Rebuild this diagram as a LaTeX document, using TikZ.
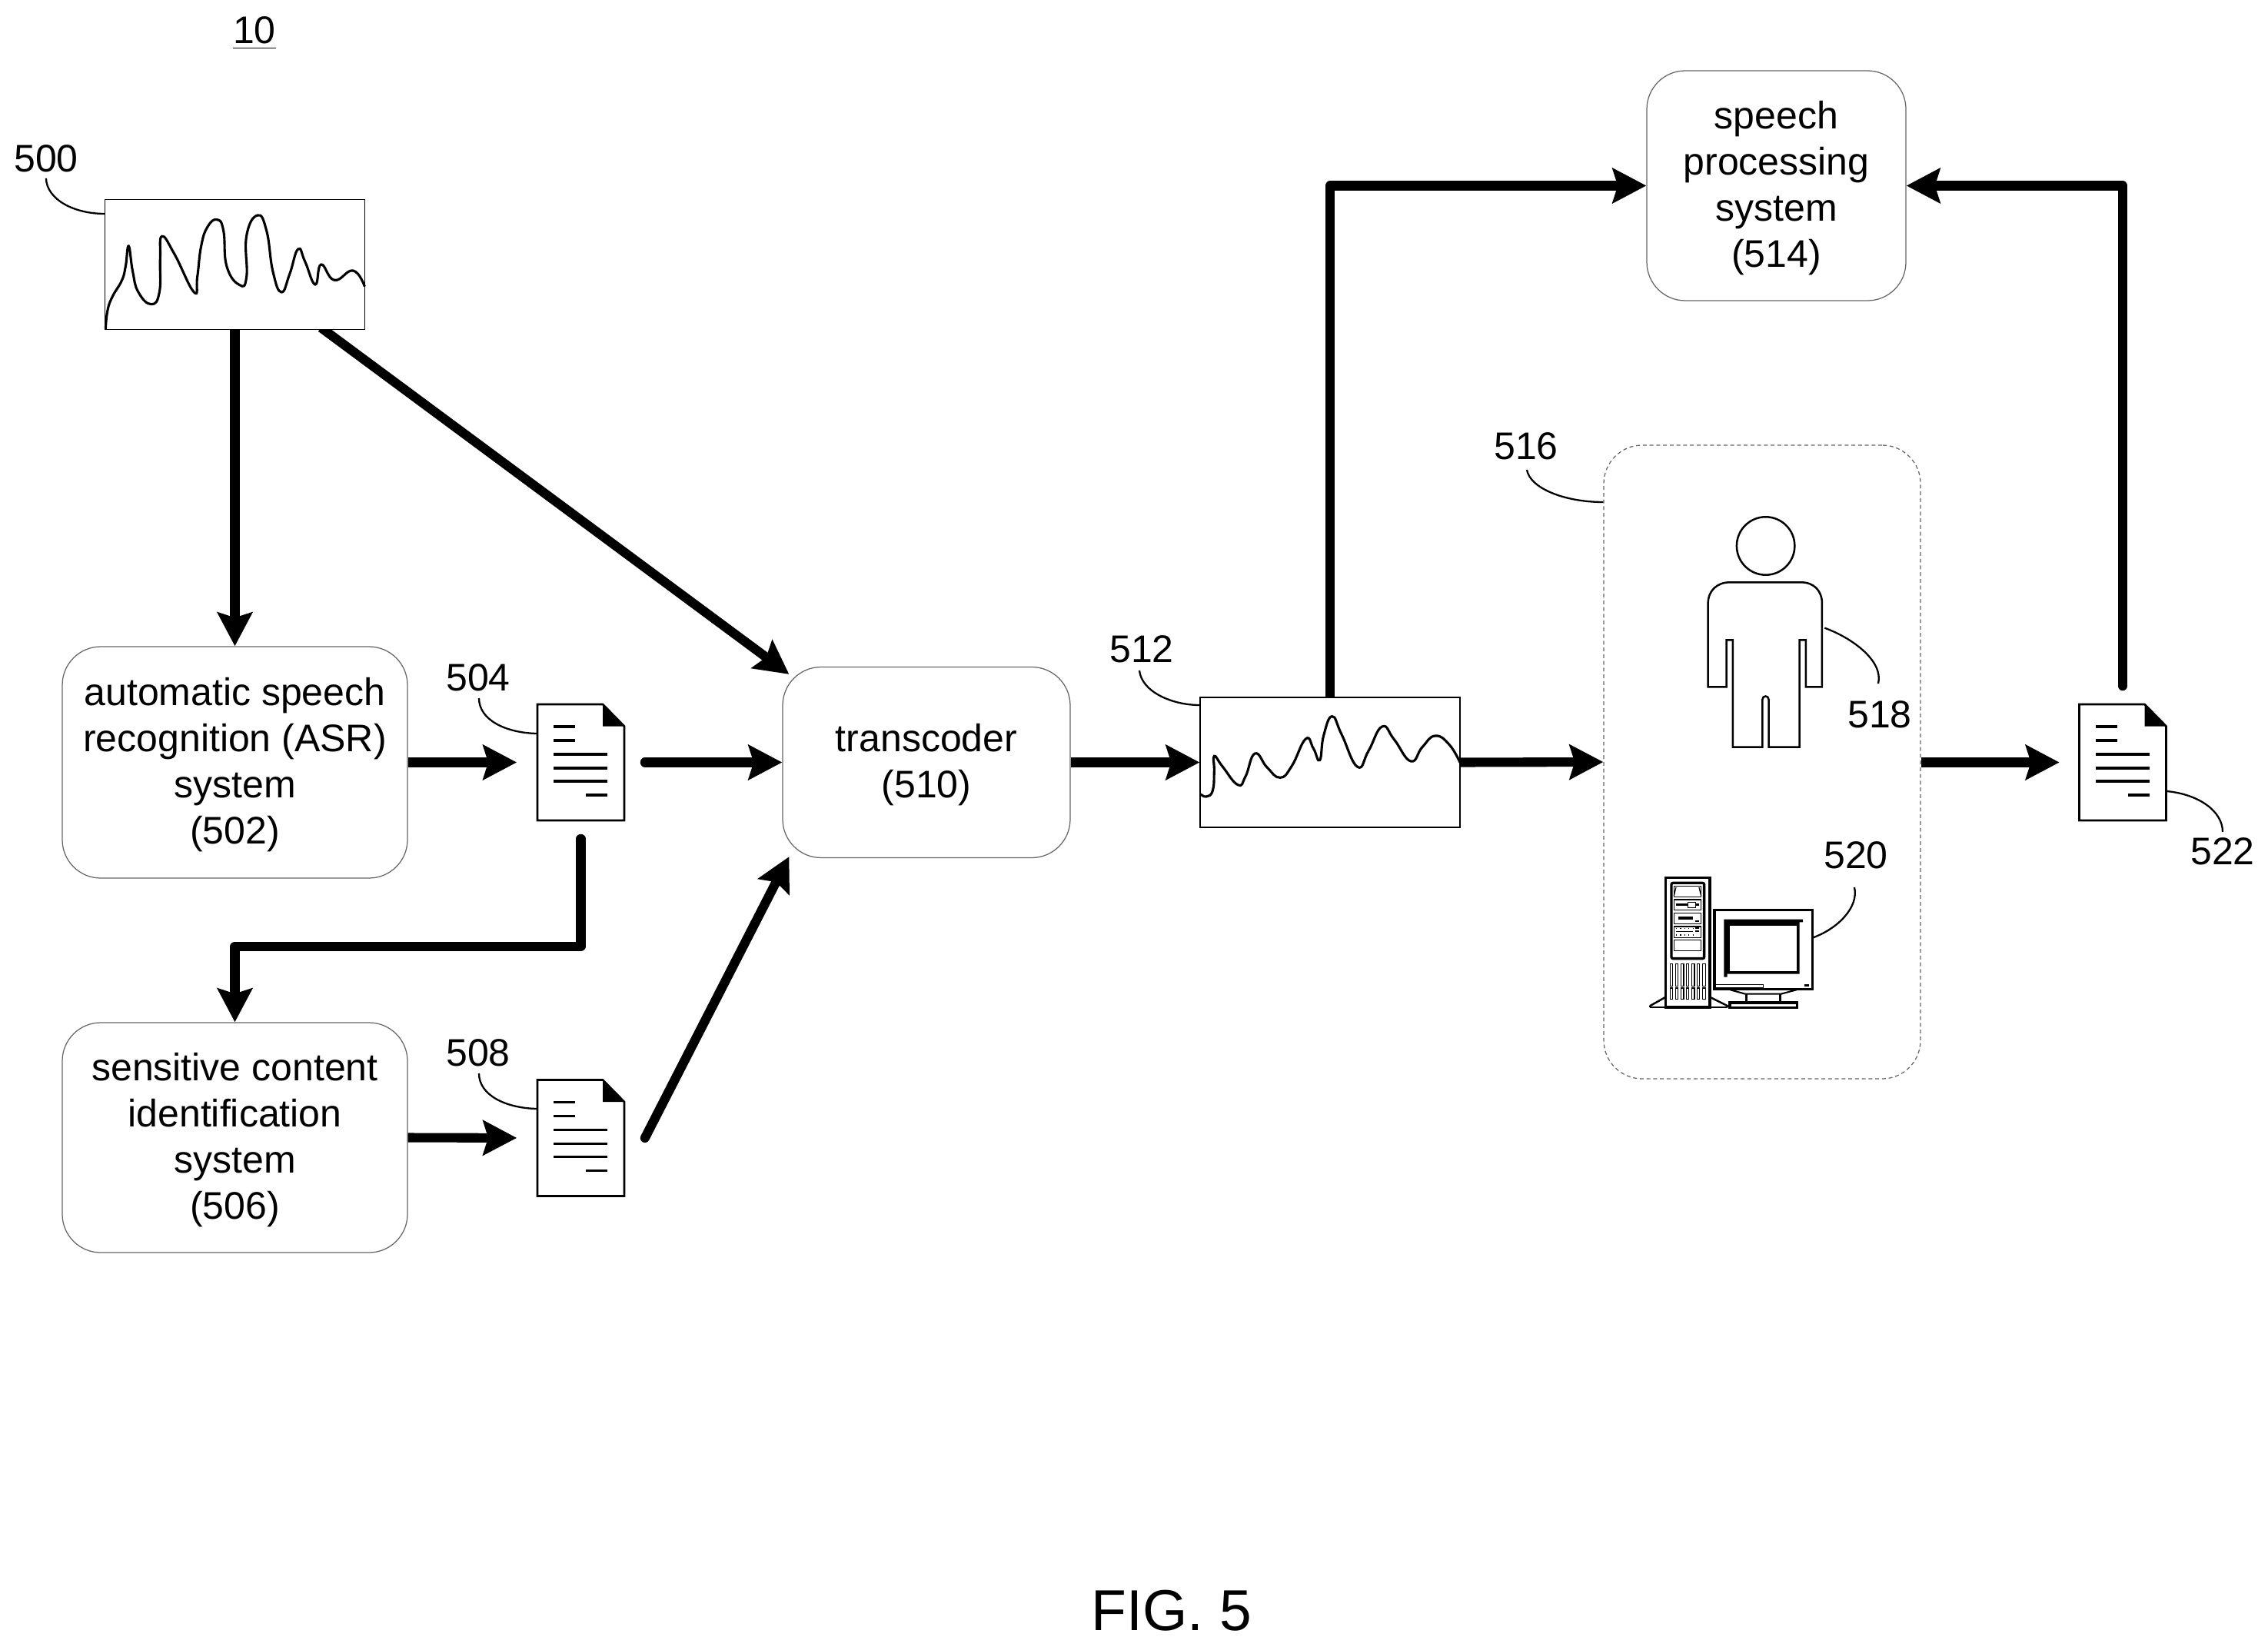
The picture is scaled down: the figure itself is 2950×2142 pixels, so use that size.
\documentclass[tikz,border=0pt]{standalone}
\usepackage{fontspec}
\setmainfont{Liberation Sans}
\usetikzlibrary{arrows.meta,calc,backgrounds}
\newcommand{\tstrut}{\rule{0pt}{10.3pt}}
\tikzset{
  every node/.style={font=\fontsize{12}{14.4}\selectfont,text=black},
  flowbox/.style={draw=black!60,line width=0.3pt,rounded corners=12pt,align=center,inner sep=0pt},
  groupbox/.style={draw=black!60,line width=0.3pt,dash pattern=on 1.2pt off 0.9pt,rounded corners=12pt,inner sep=0pt},
  wavebox/.style={draw=black,line width=0.3pt,fill=white,inner sep=0pt,minimum width=338*0.24pt,minimum height=169*0.24pt},
  wavecurve/.style={line width=0.75pt,black,smooth,tension=0.8},
  docbox/.style={inner sep=0pt,minimum width=113*0.24pt,minimum height=151*0.24pt},
  flow/.style={line width=2.9pt,line join=round,-{Stealth[length=10.5pt,width=10.8pt,inset=1.6pt]}},
  leader/.style={line width=0.55pt,black},
  thinl/.style={line width=0.55pt,black},
  zoomed/.style={x=0.08pt,y=-0.08pt},
  docicon/.pic={
    \draw[line width=0.65pt,line join=miter,fill=white] (-56.5,-75.5) -- (28.5,-75.5) -- (56.5,-47) -- (56.5,75.5) -- (-56.5,75.5) -- cycle;
    \fill (28.5,-75.5) -- (56.5,-47) -- (28.5,-47) -- cycle;
    \foreach \yy in {-46.5,-28.5} \draw[line width=0.8pt] (-35.5,\yy) -- (-7.5,\yy);
    \foreach \yy in {-10.5,7.5,24.5} \draw[line width=0.8pt] (-35.5,\yy) -- (34.5,\yy);
    \draw[line width=0.8pt] (6.5,42.5) -- (34.5,42.5);
  }
}
\begin{document}
\begin{tikzpicture}[x=0.24pt,y=-0.24pt]
\useasboundingbox (0,0) rectangle (2950,2142);

% wave boxes
\node[wavebox] (wave1) at (305.5,344) {};
\node[wavebox] (wave2) at (1730,991.5) {};

% flow boxes
\node[flowbox,minimum width=449*0.24pt,minimum height=301*0.24pt] (asr) at (305.5,991.5)
  {\tstrut automatic speech\\recognition (ASR)\\system\\(502)};
\node[flowbox,minimum width=449*0.24pt,minimum height=299*0.24pt] (sens) at (305.5,1479.5)
  {\tstrut sensitive content\\identification\\system\\(506)};
\node[flowbox,minimum width=374*0.24pt,minimum height=248*0.24pt] (trans) at (1205,991.5)
  {\tstrut transcoder\\(510)};
\node[flowbox,minimum width=337*0.24pt,minimum height=299*0.24pt] (speech) at (2310.5,241.5)
  {\tstrut speech\\processing\\system\\(514)};
\node[groupbox,minimum width=412*0.24pt,minimum height=824*0.24pt] (group) at (2292,991) {};

% documents
\pic at (755.5,991.5) {docicon};
\node[docbox] (doc504) at (755.5,991.5) {};
\pic at (755.5,1480) {docicon};
\node[docbox] (doc508) at (755.5,1480) {};
\pic at (2761,991.5) {docicon};
\node[docbox] (doc522) at (2761,991.5) {};

% waveforms
\begin{scope}[zoomed,shift={(0pt,-36pt)}]
\draw[wavecurve] plot coordinates {(412,835)(420,760)(440,705)(475,645)(490,590)(502,510)(518,610)(540,690)(590,737)(622,690)(625,560)(632,472)(680,540)(757,690)(770,630)(785,510)(810,435)(847,407)(872,450)(885,590)(935,662)(962,630)(962,470)(1005,390)(1040,450)(1065,610)(1098,690)(1130,620)(1163,522)(1190,570)(1230,660)(1253,582)(1305,643)(1378,606)(1423,668)};
\end{scope}
\begin{scope}[zoomed,shift={(364.8pt,-199.2pt)}]
\draw[wavecurve] plot coordinates {(125,608)(147,618)(172,595)(178,520)(178,460)(210,500)(270,572)(300,540)(337,450)(385,505)(435,544)(480,500)(535,393)(565,430)(590,476)(605,380)(638,305)(675,375)(737,502)(780,440)(833,345)(880,395)(945,480)(990,425)(1040,381)(1095,415)(1137,485)};
\end{scope}

% person
\begin{scope}[zoomed,shift={(528pt,-156pt)}]
\coordinate (personc) at (290,180);
\draw[thinl,line width=0.6pt] (personc) circle[radius=9.05pt];
\draw[thinl,line width=0.6pt,line join=miter]
  (65,730) -- (65,405) .. controls (65,355) and (100,322) .. (150,322) -- (428,322)
  .. controls (478,322) and (510,355) .. (510,405) -- (510,730) -- (447,730) -- (447,547) -- (422,547)
  -- (422,965) -- (302,965) -- (302,780) .. controls (302,762) and (277,762) .. (277,780)
  -- (277,965) -- (162,965) -- (162,547) -- (137,547) -- (137,730) -- cycle;
\coordinate (personr) at (520,500);
\end{scope}

% computer
\begin{scope}[zoomed,shift={(511.2pt,-266.4pt)},line join=miter]
\coordinate (monr) at (685,328);
\draw[line width=0.6pt] (48,595) -- (110,560);
\draw[line width=0.6pt] (282,560) -- (352,595);
\draw[line width=0.6pt] (48,600) -- (352,600);
\draw[line width=0.6pt] (48,595) -- (48,600);
\draw[line width=0.6pt] (352,595) -- (352,600);
\draw[line width=0.8pt,fill=white] (110,95) rectangle (282,600);
\draw[line width=0.8pt,rounded corners=0.5pt] (132,115) rectangle (260,410);
\draw[line width=0.3pt] (142,128) rectangle (248,170);
\draw[line width=0.3pt] (150,132) -- (142,165);
\draw[line width=0.3pt] (240,132) -- (248,165);
\draw[line width=0.3pt] (142,180) rectangle (248,220);
\draw[line width=0.6pt] (150,200) -- (240,200);
\draw[line width=0.3pt,fill=white] (196,190) rectangle (226,211);
\draw[line width=0.3pt] (142,232) rectangle (248,275);
\draw[line width=0.9pt] (160,252) -- (215,252);
\draw[line width=0.5pt] (226,263) -- (240,263);
\draw[line width=0.3pt] (142,285) rectangle (248,328);
\draw[line width=0.3pt,densely dotted] (150,292) -- (216,292);
\draw[line width=0.3pt] (150,304) -- (216,304);
\draw[line width=0.3pt,densely dotted] (150,318) -- (216,318);
\draw[line width=0.5pt] (224,292) -- (240,292) (224,304) -- (240,304);
\draw[line width=0.3pt] (142,337) rectangle (248,380);
\foreach \xa/\xb in {128/137,148/158,170/180,190/200,212/222,232/242,253/265} {
  \draw[line width=0.3pt] (\xa,430) rectangle (\xb,518);
  \draw[line width=0.3pt] (\xa,525) rectangle (\xb,568);
}
\draw[line width=0.8pt] (300,220) rectangle (683,530);
\fill (337,257) -- (645,257) -- (645,268) -- (632,268) -- (632,470) -- (350,470) -- (350,482) -- (337,482) -- cycle;
\fill[white] (360,282) rectangle (622,460);
\draw[line width=0.3pt] (305,512) rectangle (490,525);
\fill (652,510) rectangle (670,518);
\draw[line width=0.5pt] (362,532) -- (420,548) -- (560,548) -- (620,532);
\draw[line width=0.8pt] (424,548) -- (424,582) (556,548) -- (556,582);
\draw[line width=0.8pt] (360,582) rectangle (622,602);
\end{scope}

% labels
\node (l10) at (331,43) {\underline{10}};
\node (l500) at (60,206) {500};
\node (l504) at (622,881) {504};
\node (l508) at (622,1369) {508};
\node (l512) at (1485,844) {512};
\node (l516) at (1985,580) {516};
\node (l518) at (2445,929) {518};
\node (l520) at (2414,1112) {520};
\node (l522) at (2891,1107) {522};
\node[font=\fontsize{18}{20}\selectfont] (fig) at (1524,2095) {FIG. 5};

% leaders
\draw[leader] ($(wave1.north west)+(-76,-27)$) coordinate (s500) .. controls (61,260) and (97,278) .. (wave1.north west |- 0,278);
\draw[leader] (623,908) coordinate (s504) .. controls (623,936) and (657,953) .. (doc504.west |- 0,954);
\draw[leader] (623,1396) coordinate (s508) .. controls (623,1424) and (657,1441) .. (doc508.west |- 0,1442);
\draw[leader] (1482,872) coordinate (s512) .. controls (1485,900) and (1525,917) .. (wave2.west |- 0,917);
\draw[leader] (1986,611) coordinate (s516) .. controls (1990,635) and (2035,653) .. (group.west |- 0,653);
\draw[leader] (personr) .. controls (2410,830) and (2450,860) .. (2443,889) coordinate (e518);
\draw[leader] (2412,1154) coordinate (s520) .. controls (2418,1180) and (2390,1208) .. (monr);
\draw[leader] (doc522.east |- 0,1029) .. controls (2860,1033) and (2891,1055) .. (2891,1082) coordinate (e522);

% connectors
\begin{scope}[on background layer]
\draw[flow] (wave1.south) -- (asr.north);
\draw[flow] ($(wave1.south)+(112,-3)$) coordinate (s2) -- ($(trans.north west)+(9,10)$);
\end{scope}
\draw[flow,shorten >=26*0.24pt] (asr.east) -- (doc504.west);
\draw[flow,line cap=round,shorten <=26*0.24pt] (doc504.east) -- (trans.west);
\draw[flow,line cap=round,shorten <=23*0.24pt] (doc504.south) -- ++(0,163) -| (sens.north);
\draw[flow,shorten >=26*0.24pt] (sens.east) -- (doc508.west);
\draw[flow,line cap=round] ($(doc508.east)+(26,0)$) coordinate (s7) -- ($(trans.south west)+(9,-2)$);
\draw[flow] (trans.east) -- (wave2.west);
\begin{scope}[on background layer]
\draw[flow] (wave2.north) |- (speech.west);
\end{scope}
\draw[flow] (wave2.east) -- (group.west);
\draw[flow,shorten >=25*0.24pt] (group.east |- doc522.west) -- (doc522.west);
\draw[flow,line cap=round,shorten <=23*0.24pt] (doc522.north) |- (speech.east);
\end{tikzpicture}
\end{document}
